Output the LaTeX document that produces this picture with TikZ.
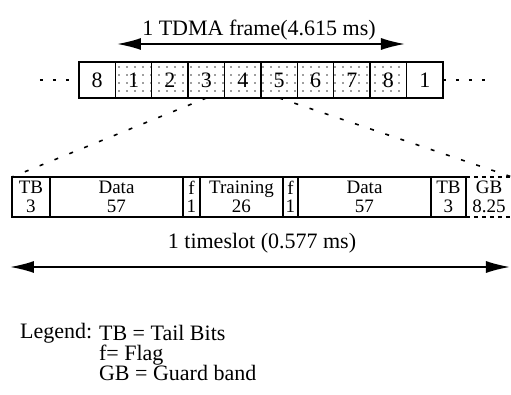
\documentclass[tikz,border=0pt]{standalone}
\usepackage{fontspec}
\setmainfont{Liberation Serif}
\usepackage{xcolor}
\usetikzlibrary{positioning,arrows.meta,patterns.meta}
\definecolor{dotgray}{RGB}{60,60,60}

\tikzset{
  framecell/.style={draw, line width=0.7pt, minimum width=18.2pt, minimum height=18pt,
    inner sep=0pt, outer sep=0pt, font=\fontsize{11}{12}\selectfont},
  dottedcell/.style={framecell, pattern={Dots[distance=4pt,radius=0.45pt]}, pattern color=dotgray},
  slotcell/.style={draw, line width=0.7pt, minimum height=20pt, inner sep=0pt, outer sep=0pt,
    align=center, font=\fontsize{9.5}{9.2}\selectfont},
  bigarrow/.style={line width=0.8pt, {Latex[length=12pt,width=6pt]}-{Latex[length=12pt,width=6pt]}},
  zoomline/.style={line width=0.8pt, dash pattern=on 2pt off 6pt},
  enddots/.style={line width=0.6pt, dash pattern=on 1.5pt off 5pt},
  textlabel/.style={font=\fontsize{11}{12}\selectfont}
}

\begin{document}
\begin{tikzpicture}[x=0.5pt, y=-0.5pt]
  \useasboundingbox (0,0) rectangle (511,395);

  % TDMA frame
  \node[textlabel] (tdmatext) at (259,30) {1 TDMA frame(4.615 ms)};
  \coordinate (tdmaL) at (117,44);
  \coordinate (tdmaR) at (405,44);
  \draw[bigarrow] (tdmaL) -- (tdmaR);

  \node[framecell] (f0) at (97.2,80) {8};
  \foreach \n [count=\i] in {1,...,8} {
    \pgfmathtruncatemacro\prev{\i-1}
    \node[dottedcell, right=0pt of f\prev] (f\i) {\n};
  }
  \node[framecell, right=0pt of f8] (f9) {1};

  \coordinate (dotsL) at (40,80);
  \coordinate (dotsR) at (490,80);
  \draw[enddots] (dotsL) -- (f0.west);
  \draw[enddots] (f9.east) -- (dotsR);

  % Timeslot
  \node[slotcell, minimum width=19pt, anchor=west] (tb1) at (12,197) {TB\\3};
  \node[slotcell, minimum width=66.5pt, right=0pt of tb1] (data1) {Data\\57};
  \node[slotcell, minimum width=8.5pt, right=0pt of data1] (flag1) {f\\1};
  \node[slotcell, minimum width=41.5pt, right=0pt of flag1] (train) {Training\\26};
  \node[slotcell, minimum width=7.5pt, right=0pt of train] (flag2) {f\\1};
  \node[slotcell, minimum width=66.5pt, right=0pt of flag2] (data2) {Data\\57};
  \node[slotcell, minimum width=17.5pt, right=0pt of data2] (tb2) {TB\\3};
  \node[slotcell, draw=none, minimum width=23pt, right=0pt of tb2] (gb) {GB\\8.25};
  \draw[line width=0.6pt, dash pattern=on 2pt off 2pt] (gb.north west) -- (gb.north east);
  \draw[line width=0.6pt, dash pattern=on 2pt off 2pt] (gb.south west) -- (gb.south east);

  % Zoom lines
  \draw[zoomline] (f3.south) -- (tb1.north west);
  \draw[zoomline] (f5.south) -- (gb.north east);

  \node[textlabel] (slottext) at (262,243) {1 timeslot (0.577 ms)};
  \coordinate (slotL) at (10,267);
  \coordinate (slotR) at (510,267);
  \draw[bigarrow] (slotL) -- (slotR);

  % Legend
  \node[textlabel, anchor=west] (legend) at (13,333) {Legend:};
  \node[textlabel, anchor=west] (legtb) at (92,333) {TB = Tail Bits};
  \node[textlabel, anchor=west] (legf) at (92,355) {f= Flag};
  \node[textlabel, anchor=west] (leggb) at (92,373) {GB = Guard band};

\end{tikzpicture}
\end{document}
